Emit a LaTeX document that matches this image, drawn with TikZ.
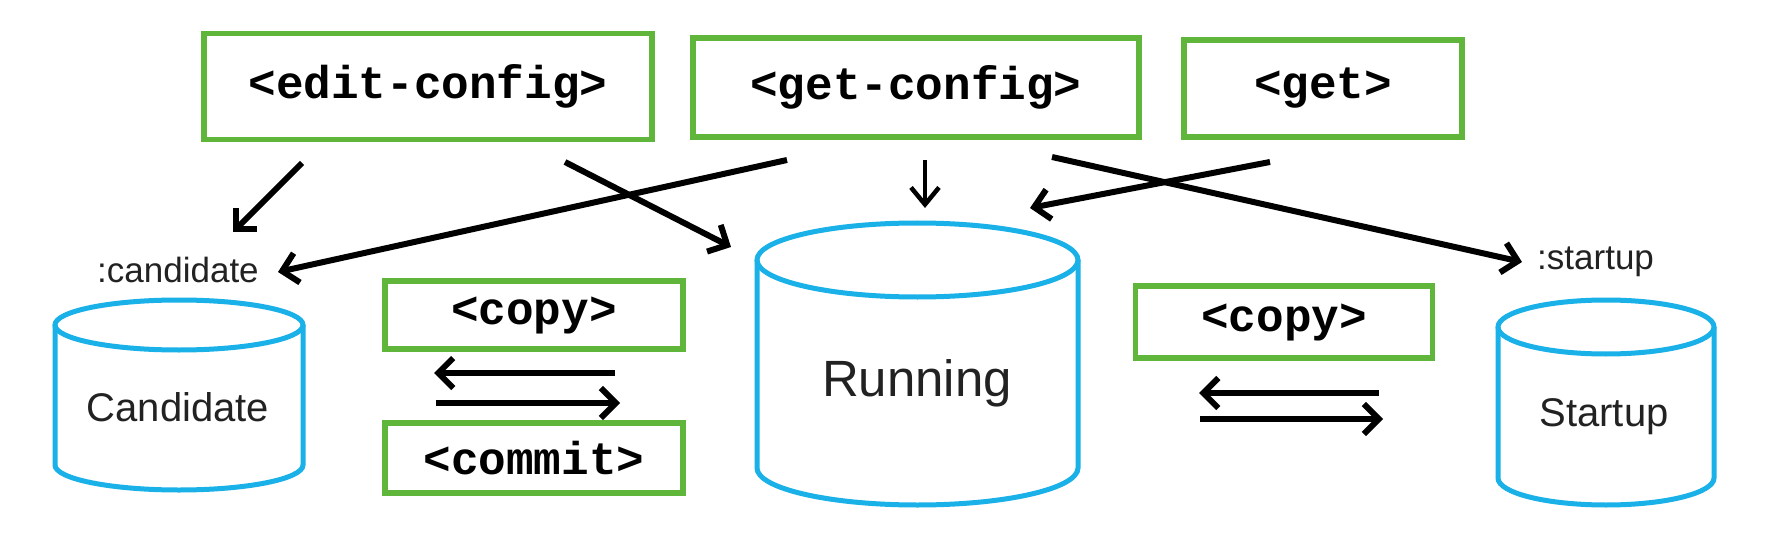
\documentclass[tikz,border=0pt]{standalone}
\usepackage{fontspec}
\setmainfont{Liberation Sans}
\newfontfamily\boxmono{Liberation Mono}
\usetikzlibrary{arrows.meta}
\definecolor{boxgreen}{HTML}{5FB63A}
\definecolor{dbblue}{HTML}{1AB0E8}
\definecolor{txtgray}{HTML}{222222}
\tikzset{
  cmdbox/.style={draw=boxgreen, line width=5.5pt, inner sep=0pt, text=black,
    font=\boxmono\bfseries\fontsize{46}{50}\selectfont},
  dbline/.style={draw=dbblue, line width=5pt},
  dbtext/.style={text=txtgray, inner sep=0pt},
  lbl/.style={text=txtgray, inner sep=0pt, font=\fontsize{35}{38}\selectfont},
  flow/.style={draw=black, line width=6pt, -{Straight Barb[length=15pt,width=30pt,line width=6pt]}},
  thinflow/.style={draw=black, line width=4pt, -{Straight Barb[length=17pt,width=28pt,line width=4.5pt]}}
}
\begin{document}
\begin{tikzpicture}[x=1pt,y=-1pt]
\useasboundingbox[fill=white] (0,0) rectangle (1780,548);

% command boxes
\node[cmdbox, minimum width=448pt, minimum height=106pt] (edit) at (428,86.5) {<edit-config>};
\node[cmdbox, minimum width=446pt, minimum height=99pt] (getconfig) at (916,87.5) {<get-config>};
\node[cmdbox, minimum width=278pt, minimum height=97pt] (get) at (1323,88.5) {<get>};
\node[cmdbox, minimum width=298pt, minimum height=68pt] (copyL) at (534,315) {<copy>};
\node[cmdbox, minimum width=298pt, minimum height=70pt] (commit) at (534,458) {<commit>};
\node[cmdbox, minimum width=297pt, minimum height=72pt] (copyR) at (1284,322) {<copy>};

% cylinders
% Candidate
\draw[dbline] (55,325) -- (55,465) arc[start angle=180, end angle=360, x radius=124pt, y radius=25pt] -- (303,325);
\draw[dbline] (179,325) ellipse[x radius=124pt, y radius=25pt];
% Running
\draw[dbline] (757,260) -- (757,468) arc[start angle=180, end angle=360, x radius=160.5pt, y radius=37pt] -- (1078,260);
\draw[dbline] (917.5,260) ellipse[x radius=160.5pt, y radius=37pt];
% Startup
\draw[dbline] (1498,327) -- (1498,478) arc[start angle=180, end angle=360, x radius=108pt, y radius=27pt] -- (1714,327);
\draw[dbline] (1606,327) ellipse[x radius=108pt, y radius=27pt];

\node[dbtext, font=\fontsize{40}{44}\selectfont] (candidate) at (178,407) {Candidate};
\node[dbtext, font=\fontsize{51}{56}\selectfont] (running) at (917,383) {Running};
\node[dbtext, font=\fontsize{40}{44}\selectfont] (startup) at (1604,417) {Startup};

\node[lbl, anchor=west] (candlbl) at (97,270) {:candidate};
\node[lbl, anchor=west] (startlbl) at (1537,262) {:startup};

% arrow end points
\coordinate (e1s) at (302,163);  \coordinate (e1t) at (233,232);
\coordinate (e2s) at (565,162);  \coordinate (e2t) at (731,247);
\coordinate (g1s) at (787,160);  \coordinate (g1t) at (278,272);
\coordinate (g2s) at (925,160);  \coordinate (g2t) at (925,208);
\coordinate (g3s) at (1052,157); \coordinate (g3t) at (1522,262);
\coordinate (t1s) at (1270,162); \coordinate (t1t) at (1030,208);
\coordinate (cl1s) at (615,373); \coordinate (cl1t) at (434,373);
\coordinate (cl2s) at (436,403); \coordinate (cl2t) at (620,403);
\coordinate (cr1s) at (1379,393); \coordinate (cr1t) at (1199,393);
\coordinate (cr2s) at (1200,419); \coordinate (cr2t) at (1383,419);

\draw[flow] (e1s) -- (e1t);
\draw[flow] (e2s) -- (e2t);
\draw[flow] (g1s) -- (g1t);
\draw[thinflow] (g2s) -- (g2t);
\draw[flow] (g3s) -- (g3t);
\draw[flow] (t1s) -- (t1t);
\draw[flow] (cl1s) -- (cl1t);
\draw[flow] (cl2s) -- (cl2t);
\draw[flow] (cr1s) -- (cr1t);
\draw[flow] (cr2s) -- (cr2t);
\end{tikzpicture}
\end{document}
